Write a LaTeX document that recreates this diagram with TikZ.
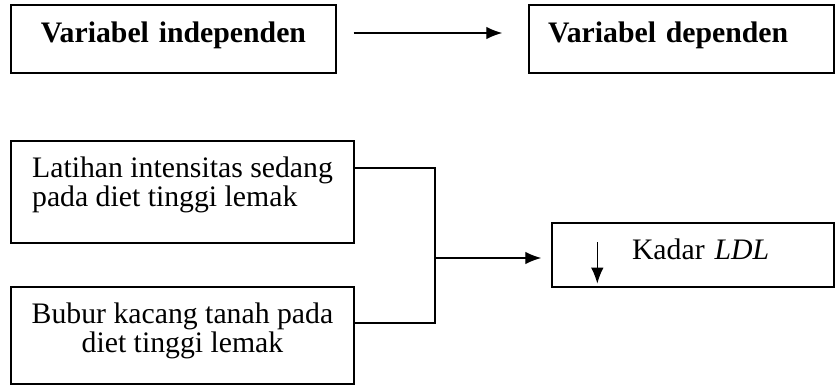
\documentclass[tikz,border=0pt]{standalone}
\usepackage{fontspec}
\setmainfont{Liberation Serif}
\usetikzlibrary{arrows.meta}

\begin{document}
\begin{tikzpicture}[x=0.4pt, y=-0.4pt, line width=0.55pt]
  \tikzset{>={Latex[length=6.4pt,width=5pt]}}
  \tikzset{varbox/.style={draw, inner ysep=0pt, font=\fontsize{11.9}{11.7}\selectfont}}
  \useasboundingbox (0,0) rectangle (835,385);
  %
  % top row
  \node [varbox, font=\fontsize{11.9}{11.7}\selectfont\bfseries, inner xsep=0pt,
         text width=130pt, align=center, text height=15.2pt, text depth=12pt]
         (indep) at (173.5,39) {Variabel independen};
  \node [varbox, font=\fontsize{11.9}{11.7}\selectfont\bfseries, inner xsep=7.6pt,
         text width=106.8pt, align=left, text height=15.2pt, text depth=12pt]
         (dep) at (681.5,39) {Variabel dependen};
  \draw [->, shorten <=6.8pt, shorten >=10.4pt]
        ([yshift=2.4pt]indep.east) -- ([yshift=2.4pt]dep.west);
  %
  % bottom row
  \node [varbox, inner xsep=0pt, minimum width=137.2pt, align=left,
         text height=26.4pt, text depth=14.4pt]
         (lat) at (182.5,192) {Latihan intensitas sedang\\pada diet tinggi lemak};
  \node [varbox, inner xsep=0pt, minimum width=137.2pt, align=center,
         text height=26.4pt, text depth=12.4pt]
         (bubur) at (182.5,335.5) {Bubur kacang tanah pada\\diet tinggi lemak};
  \node [varbox, inner xsep=4pt, text width=104.8pt, align=left,
         text height=14.8pt, text depth=10.8pt]
         (kadar) at (693,255) {\hspace*{28pt}Kadar \textit{LDL}};
  \coordinate (join) at (435,258);
  %
  \foreach \b/\dy in {lat/9.6pt, bubur/5pt} {
    \draw ([yshift=\dy]\b.east) -| (join);
  }
  \draw [->, shorten >=4pt] (join) -- (join -| kadar.west);
  \draw [->] ([xshift=18.4pt,yshift=-8pt]kadar.north west)
          -- ([xshift=18.4pt,yshift=1.6pt]kadar.south west);
\end{tikzpicture}
\end{document}
